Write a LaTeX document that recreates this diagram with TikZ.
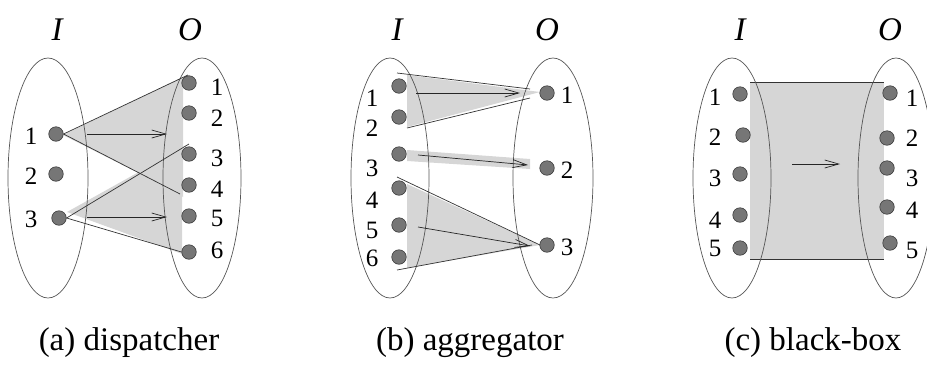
\documentclass[tikz,border=0pt]{standalone}
\usepackage{fontspec}
\setmainfont{Liberation Serif}
\newfontfamily\tnr{Liberation Serif}
\usetikzlibrary{arrows.meta}
\definecolor{shade}{HTML}{D6D6D6}
\definecolor{dotfill}{HTML}{767676}
\definecolor{dotline}{HTML}{3A3A3A}
\definecolor{ellline}{HTML}{555555}
\begin{document}
\begin{tikzpicture}[x=1pt,y=-1pt,
  dot/.style={circle,fill=dotfill,draw=dotline,line width=0.6pt,minimum size=14.5pt,inner sep=0pt},
  num/.style={inner sep=0pt,font=\tnr\fontsize{25}{27}\selectfont},
  setlab/.style={inner sep=0pt,font=\tnr\fontsize{33}{35}\selectfont\itshape},
  captext/.style={inner sep=0pt,anchor=base,font=\tnr\fontsize{33}{35}\selectfont},
  ell/.style={draw=ellline,line width=0.7pt},
  edge/.style={draw=black!80,line width=0.7pt},
  arr/.style={draw=black!85,line width=0.7pt,-{Straight Barb[length=14pt,width=8pt,line width=0.7pt]}},
  gfill/.style={fill=shade,draw=none}]
\useasboundingbox (0,0) rectangle (927,365);
\clip (0,0) rectangle (927,365);

% ===== (a) dispatcher =====
\fill[gfill] (63,135) -- (187,75) -- (183,77) -- (183,197) -- (180,194) -- cycle;
\fill[gfill] (67,212) -- (189,144) -- (182,147) -- (182,253) -- (185,255) -- cycle;
\draw[ell] (48,178) ellipse [x radius=40,y radius=120];
\draw[ell] (202,178) ellipse [x radius=39,y radius=120];
\node[setlab] (aI) at (57,30) {I};
\node[setlab] (aO) at (190,30) {O};
\node[dot] (ai1) at (56,134) {};
\node[dot] (ai2) at (56,174) {};
\node[dot] (ai3) at (59,218) {};
\node[num] at (31,136) {1};
\node[num] at (31,176) {2};
\node[num] at (31,219) {3};
\foreach \k/\y/\ly in {1/83/87,2/113/118,3/154/158,4/185/189,5/216/218,6/252/250}{
  \node[dot] (ao\k) at (189,\y) {};
  \node[num] at (217,\ly) {\k};
}
\coordinate (at1) at (188,75);
\coordinate (ab1) at (180,194);
\coordinate (at3) at (189,144);
\draw[edge] (ai1.east) -- (at1);
\draw[edge] (ai1.east) -- (ab1);
\draw[edge] (ai3.east) -- (at3);
\draw[edge] (ai3.east) -- (ao6.west);
\coordinate (aa1s) at (87,134); \coordinate (aa1e) at (167,134);
\coordinate (aa2s) at (87,217); \coordinate (aa2e) at (167,217);
\draw[arr] (aa1s) -- (aa1e);
\draw[arr] (aa2s) -- (aa2e);
\node[captext] (capa) at (129,350) {(a) dispatcher};

% ===== (b) aggregator =====
\fill[gfill] (407,75) -- (540,92) -- (407,127) -- cycle;
\fill[gfill] (407,150) -- (530,159) -- (530,169) -- (407,161) -- cycle;
\fill[gfill] (407,184) -- (540,245) -- (407,268) -- cycle;
\draw[ell] (390,178) ellipse [x radius=39,y radius=120];
\draw[ell] (553,178) ellipse [x radius=40,y radius=120];
\node[setlab] (bI) at (397,30) {I};
\node[setlab] (bO) at (547,30) {O};
\foreach \k/\y/\ly in {1/86/98,2/117/128,3/154/168,4/188/200,5/225/230,6/257/258}{
  \node[dot] (bi\k) at (399,\y) {};
  \node[num] at (372,\ly) {\k};
}
\foreach \k/\y in {1/93,2/168,3/245}{
  \node[dot] (bo\k) at (547,\y) {};
  \node[num] at (567,\y+2) {\k};
}
\coordinate (bt1s) at (397,73); \coordinate (bt1e) at (530,89);
\coordinate (bb1s) at (407,128); \coordinate (bb1e) at (530,98);
\coordinate (bt3s) at (397,177); \coordinate (bt3e) at (540,245);
\coordinate (bb3s) at (397,270); \coordinate (bb3e) at (532,245);
\draw[edge] (bt1s) -- (bt1e);
\draw[edge] (bb1s) -- (bb1e);
\draw[edge] (bt3s) -- (bt3e);
\draw[edge] (bb3s) -- (bb3e);
\coordinate (ba1s) at (416,93); \coordinate (ba1e) at (520,93);
\coordinate (ba2s) at (418,155); \coordinate (ba2e) at (528,165);
\coordinate (ba3s) at (418,227); \coordinate (ba3e) at (530,246);
\draw[arr] (ba1s) -- (ba1e);
\draw[arr] (ba2s) -- (ba2e);
\draw[arr] (ba3s) -- (ba3e);
\node[captext] (capb) at (470,350) {(b) aggregator};

% ===== (c) black-box =====
\fill[gfill] (750,82) rectangle (884,259);
\coordinate (ctl) at (750,82); \coordinate (ctr) at (884,82);
\coordinate (cbl) at (750,259); \coordinate (cbr) at (884,259);
\draw[edge] (ctl) -- (ctr);
\draw[edge] (cbl) -- (cbr);
\draw[ell] (732,178) ellipse [x radius=39,y radius=120];
\draw[ell] (896,178) ellipse [x radius=38,y radius=120];
\node[setlab] (cI) at (740,30) {I};
\node[setlab] (cO) at (890,30) {O};
\foreach \k/\x/\y/\ly in {1/740/94/97,2/743/135/137,3/740/174/178,4/740/215/220,5/740/248/248}{
  \node[dot] (ci\k) at (\x,\y) {};
  \node[num] at (715,\ly) {\k};
}
\foreach \k/\x/\y/\ly in {1/890/93/98,2/887/138/138,3/887/168/178,4/887/207/210,5/890/243/250}{
  \node[dot] (co\k) at (\x,\y) {};
  \node[num] at (912,\ly) {\k};
}
\coordinate (cas) at (792,164); \coordinate (cae) at (840,164);
\draw[arr] (cas) -- (cae);
\node[captext] (capc) at (813,350) {(c) black-box};
\end{tikzpicture}
\end{document}
